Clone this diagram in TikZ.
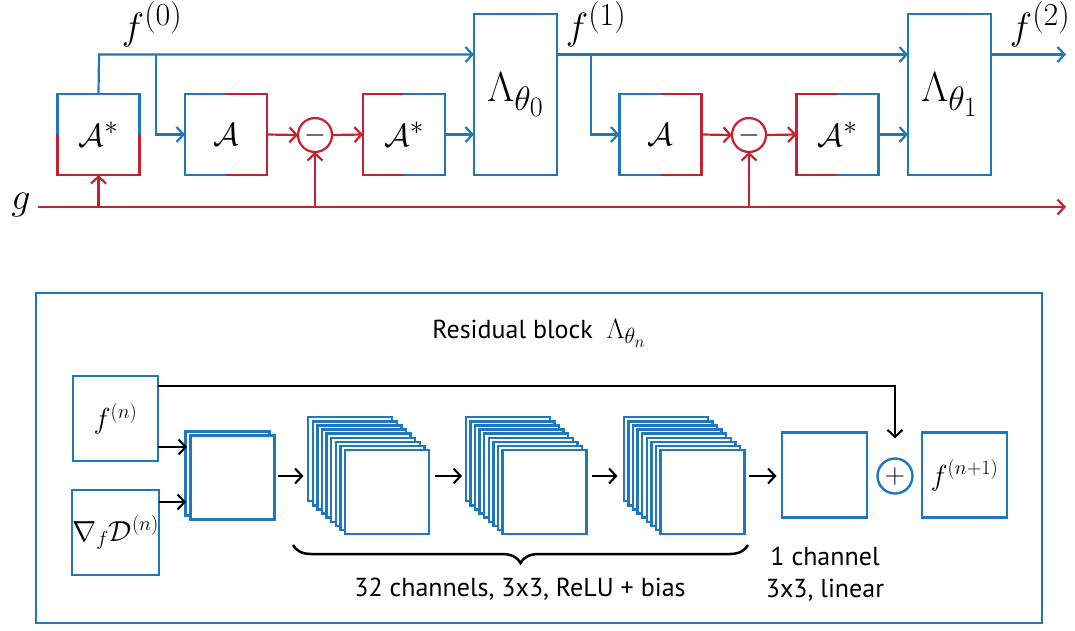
\RequirePackage{fix-cm}
\documentclass[tikz,border=0pt]{standalone}
\usepackage{fontspec}
\setsansfont{PT Sans}
\usetikzlibrary{arrows.meta,calc,decorations.pathreplacing}
\definecolor{cblue}{RGB}{31,119,189}
\definecolor{cred}{RGB}{200,32,48}
\newcommand{\fsz}[1]{\fontsize{#1}{#1}\selectfont}
\DeclareMathSizes{32}{32}{27}{22}
\DeclareMathSizes{38}{38}{32}{26}
\DeclareMathSizes{42}{42}{34}{28}
\DeclareMathSizes{28}{28}{22}{17}
\DeclareMathSizes{29}{29}{20.3}{14.5}
\tikzset{
  >={Straight Barb[length=7pt,width=15pt]},
  bl/.style={draw=cblue,line width=2.2pt},
  rd/.style={draw=cred,line width=2.2pt},
  ar/.style={draw=black,line width=2.1pt},
  opbox/.style={minimum width=82pt,minimum height=81pt,inner sep=0pt,outer sep=0pt,font=\fsz{32}},
  lambox/.style={draw=cblue,line width=2.2pt,minimum width=83pt,minimum height=161pt,inner sep=0pt,outer sep=0pt,font=\fsz{42}},
  opcirc/.style={circle,draw=cred,line width=2.2pt,minimum size=34pt,inner sep=0pt,outer sep=0pt,font=\fsz{28}},
  flab/.style={font=\fsz{38},inner sep=0pt},
  sq/.style={draw=cblue,line width=2.4pt,fill=white},
  sqn/.style={sq,minimum size=84pt,inner sep=0pt,outer sep=0pt},
  mbox/.style={draw=cblue,line width=2.4pt,minimum size=85pt,inner sep=0pt,outer sep=0pt,font=\fsz{29}},
  txt/.style={font=\sffamily\fsz{26},inner sep=0pt},
}
\begin{document}
\begin{tikzpicture}[x=1pt,y=-1pt]
\useasboundingbox (0,0) rectangle (1075,630);
% ---------- top ----------
\node[opbox] (as1) at (98.5,134.5) {$\mathcal{A}^*$};
\node[opbox] (a1) at (226,134.5) {$\mathcal{A}$};
\node[opcirc] (m1) at (315,135) {$-$};
\node[opbox] (as2) at (404,134.5) {$\mathcal{A}^*$};
\node[lambox] (lam0) at (515.5,94.5) {$\Lambda_{\theta_0}$};
\node[opbox] (a2) at (660.5,134.5) {$\mathcal{A}$};
\node[opcirc] (m2) at (749,135) {$-$};
\node[opbox] (as3) at (837.5,134.5) {$\mathcal{A}^*$};
\node[lambox] (lam1) at (949.5,94.5) {$\Lambda_{\theta_1}$};
% two-coloured borders
\draw[bl] (as1.west) -- (as1.north west) -- (as1.north east) -- (as1.east);
\draw[rd] (as1.west) -- (as1.south west) -- (as1.south east) -- (as1.east);
\foreach \n in {a1,a2}{
  \draw[bl] (\n.north) -- (\n.north west) -- (\n.south west) -- (\n.south);
  \draw[rd] (\n.north) -- (\n.north east) -- (\n.south east) -- (\n.south);
}
\foreach \n in {as2,as3}{
  \draw[rd] (\n.north) -- (\n.north west) -- (\n.south west) -- (\n.south);
  \draw[bl] (\n.north) -- (\n.north east) -- (\n.south east) -- (\n.south);
}
% labels
\node[flab] (f0) at (152,24) {$f^{(0)}$};
\node[flab] (f1) at (596,24) {$f^{(1)}$};
\node[flab] (f2) at (1040,24) {$f^{(2)}$};
\node[flab] (g) at (21,205) {$g$};
% blue paths
\coordinate (t0) at (99,54.5);
\coordinate (b0) at (156,54.5);
\coordinate (b1) at (591,54.5);
\coordinate (out) at (1066,54.5);
\draw[bl,->] (as1.north) -- (t0) -- (t0 -| lam0.west);
\draw[bl,->] (b0) |- (a1.west);
\draw[bl,->] (as2.east) -- (as2.east -| lam0.west);
\draw[bl,->] (lam0.east |- t0) -- (t0 -| lam1.west);
\draw[bl,->] (b1) |- (a2.west);
\draw[bl,->] (as3.east) -- (as3.east -| lam1.west);
\draw[bl,->] (lam1.east |- t0) -- (out);
% red paths
\coordinate (gs) at (38,207);
\coordinate (ge) at (1066,207);
\draw[rd,->] (gs) -- (ge);
\draw[rd,->] (as1.south |- gs) -- (as1.south);
\draw[rd,->] (m1.south |- gs) -- (m1.south);
\draw[rd,->] (m2.south |- gs) -- (m2.south);
\draw[rd,->] (a1.east) -- (m1.west);
\draw[rd,->] (m1.east) -- (as2.west);
\draw[rd,->] (a2.east) -- (m2.west);
\draw[rd,->] (m2.east) -- (as3.west);
% ---------- bottom ----------
\draw[draw=cblue,line width=2.7pt] (36,293) rectangle (1042,623);
\node[inner sep=0pt] (title) at (539,333) {\sffamily\fsz{26}Residual block\ \ \fsz{28}$\Lambda_{\theta_n}$};
\node[mbox] (fn) at (115.5,418.5) {$f^{(n)}$};
\node[mbox] (gr) at (115.5,532.5) {$\nabla_{f}\mathcal{D}^{(n)}$};
% stacks
\coordinate (c1) at (232.5,477.5);
\coordinate (c2) at (387,492);
\coordinate (c3) at (544.5,492);
\coordinate (c4) at (702.5,492);
\draw[sq] ($(c1)+(-5-42,-4-42)$) rectangle +(84,84);
\node[sqn] (s1) at (c1) {};
\foreach \c/\s in {c2/s2,c3/s3,c4/s4}{
  \foreach \i in {8,7,...,1}
    \draw[sq] ($(\c)+(-4.6*\i-42,-4.1*\i-42)$) rectangle +(84,84);
  \node[sqn] (\s) at (\c) {};
}
\node[mbox] (s5) at (824.5,475) {};
\node[circle,draw=cblue,line width=2.4pt,minimum size=35pt,inner sep=0pt,font=\fsz{28}] (plus) at (895,476) {$+$};
\node[mbox] (fn1) at (964.5,475) {$f^{(n+1)}$};
% arrows
\coordinate (rowy) at (0,476);
\coordinate (ya) at (0,447);
\coordinate (yb) at (0,502);
\coordinate (skip) at (0,386);
\coordinate (s1b) at (187,476);
\draw[ar,->] (fn.east |- ya) -- (s1b |- ya);
\draw[ar,->] (gr.east |- yb) -- ($(s1b |- yb)+(-1,0)$);
\draw[ar,->] (s1.east |- rowy) ++(3,0) -- ++(26,0);
\draw[ar,->] (s2.east |- rowy) ++(6,0) -- ++(27,0);
\draw[ar,->] (s3.east |- rowy) ++(5,0) -- ++(26,0);
\draw[ar,->] (s4.east |- rowy) ++(4,0) -- ++(28,0);
\draw[ar,->] (fn.east |- skip) -- (skip -| plus) -- ($(plus.north)+(0,-19)$);
% brace and texts
\coordinate (br1) at (293,545);
\coordinate (br2) at (748,545);
\draw[line width=2.5pt,decorate,decoration={brace,mirror,amplitude=18pt}] (br1) -- (br2);
\node[txt] (t32) at (520,589) {32 channels, 3x3, ReLU + bias};
\node[txt] (t1a) at (825,556) {1 channel};
\node[txt] (t1b) at (825,590) {3x3, linear};
\end{tikzpicture}
\end{document}
